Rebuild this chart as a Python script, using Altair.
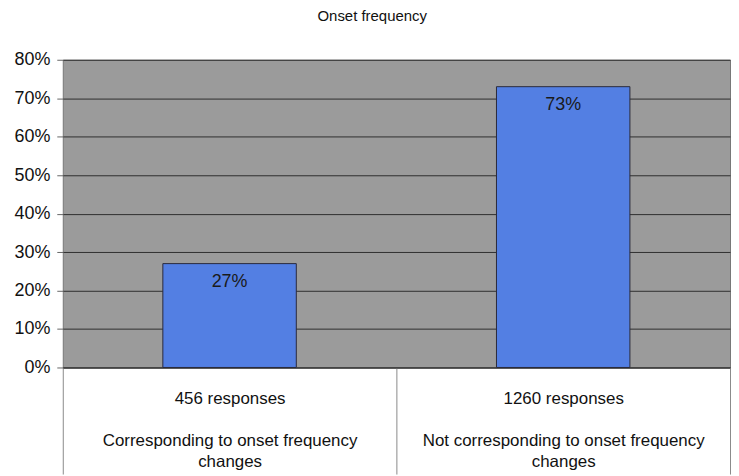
import altair as alt
import pandas as pd

categories = ["Corresponding to onset frequency changes",
              "Not corresponding to onset frequency changes"]
responses = [456, 1260]
shares = [0.27, 0.73]
label_lines = [
    ["Corresponding to onset frequency", "changes"],
    ["Not corresponding to onset frequency", "changes"],
]
y_ticks = [0, 0.1, 0.2, 0.3, 0.4, 0.5, 0.6, 0.7, 0.8]

df = pd.DataFrame({
    "category": categories,
    "share": shares,
    "text": [f"{round(s * 100)}%" for s in shares],
})

GAP = "\u200b"


def js_list(items):
    return "[" + ", ".join("'" + s + "'" for s in items) + "]"


label_expr = ""
for c, n, l in zip(categories, responses, label_lines):
    label_expr += f"datum.value == '{c}' ? {js_list([f'{n} responses', GAP] + l)} : "
label_expr += "datum.label"

FONT = "Liberation Sans"

x = alt.X(
    "category:N",
    sort=categories,
    scale=alt.Scale(paddingInner=0, paddingOuter=0),
    axis=alt.Axis(
        title=None,
        labelAngle=0,
        labelExpr=label_expr,
        labelFont=FONT,
        labelFontSize=17,
        labelColor="#111111",
        labelLineHeight=21,
        labelBaseline="top",
        labelPadding=-84,
        labelLimit=400,
        tickBand="extent",
        tickSize=107,
        tickColor="#8a8a8a",
        tickWidth=1,
        domainColor="#333333",
        domainWidth=1,
        grid=False,
    ),
)

y = alt.Y(
    "share:Q",
    scale=alt.Scale(domain=[0, 0.8]),
    axis=alt.Axis(
        title=None,
        values=y_ticks,
        format=".0%",
        labelFont=FONT,
        labelFontSize=18,
        labelColor="#111111",
        labelPadding=7,
        labelOverlap=False,
        tickSize=6,
        tickColor="#666666",
        domain=False,
        grid=True,
        gridColor="#2e2e2e",
        gridWidth=1,
    ),
)

base = alt.Chart(df).encode(x=x, y=y)

bars = base.mark_bar(
    color="#537fe3", stroke="#2a2a3a", strokeWidth=1, width=alt.RelativeBandSize(0.4)
)

texts = base.mark_text(
    baseline="top", dy=9, font=FONT, fontSize=18, color="#1a1a1a"
).encode(text="text:N")

chart = (
    alt.layer(bars, texts)
    .properties(
        width=670,
        height=309,
        padding={"left": 5, "top": 0, "right": 0, "bottom": 0},
        title=alt.TitleParams(
            "Onset frequency",
            font=FONT,
            fontSize=15,
            fontWeight="normal",
            color="#111111",
            anchor="middle",
            frame="bounds",
            offset=27,
        ),
    )
    .configure(background="white")
    .configure_view(fill="#9b9b9b", stroke="#777777", strokeWidth=1)
)

chart.save("out.html", embed_options={"renderer": "svg", "actions": False})
